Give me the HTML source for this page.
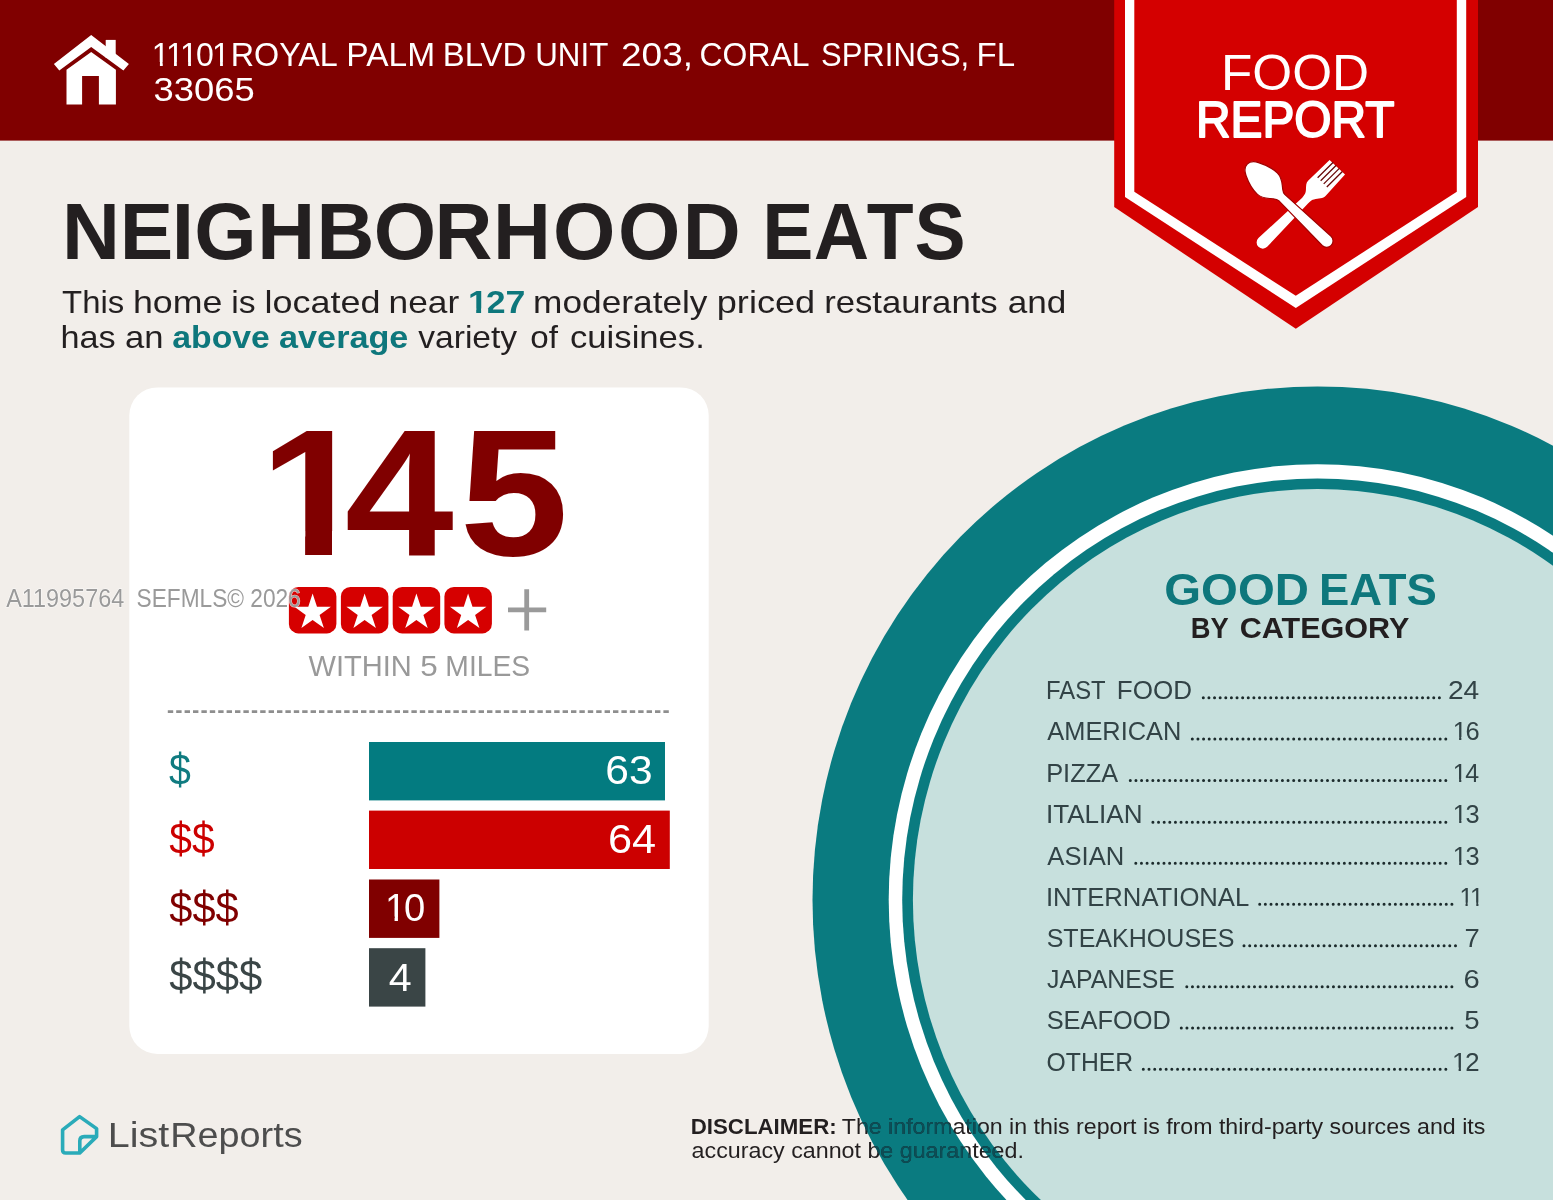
<!DOCTYPE html>
<html lang="en">
<head>
<meta charset="utf-8">
<title>Neighborhood Eats - Food Report</title>
<style>
html,body{margin:0;padding:0;background:#f2eeea;}
body{width:1553px;height:1200px;overflow:hidden;font-family:"Liberation Sans",sans-serif;}
svg{display:block;}
svg text{font-family:"Liberation Sans",sans-serif;white-space:pre;}
</style>
</head>
<body>
<svg width="1553" height="1200" viewBox="0 0 1553 1200">
<defs><clipPath id="ringclip"><path clip-rule="evenodd" d="M812.5 900.0a505.0 513.6 0 1 0 1010.0 0a505.0 513.6 0 1 0 -1010.0 0z M888.7 900.0a428.8 435.8 0 1 0 857.6 0a428.8 435.8 0 1 0 -857.6 0z M902.2 900.0a415.3 421.5 0 1 0 830.6 0a415.3 421.5 0 1 0 -830.6 0z M912.9 900.0a404.6 411.1 0 1 0 809.2 0a404.6 411.1 0 1 0 -809.2 0z"/></clipPath></defs>
<rect width="1553" height="1200" fill="#f2eeea"/>
<ellipse cx="1317.5" cy="900" rx="505" ry="513.6" fill="#0a7b80"/>
<ellipse cx="1317.5" cy="900" rx="428.8" ry="435.8" fill="#ffffff"/>
<ellipse cx="1317.5" cy="900" rx="415.3" ry="421.5" fill="#0a7b80"/>
<ellipse cx="1317.5" cy="900" rx="404.6" ry="411.1" fill="#c7e0dd"/>
<rect width="1553" height="140.6" fill="#800000"/>
<polygon points="1114.2,0 1478,0 1478,207 1295.8,328.8 1114.2,207" fill="#d40000"/>
<polygon points="1125,0 1466.2,0 1466.2,197.1 1295.8,308 1125,197.1" fill="#ffffff"/>
<polygon points="1134.3,0 1456.8,0 1456.8,191.7 1295.8,295.8 1134.3,191.7" fill="#d40000"/>
<g transform="translate(1257.5 246.3) rotate(-44.8)"><path fill="#ffffff" d="M6.5,-5.2 L66,-3 C70,-3.2 72,-4 74,-5.8 C77,-8.5 79,-10.8 82,-10.8 L112,-10.5 L112.7,10.7 L84,12.3 C80,12.5 77,9 73,6.6 C71.5,5.6 70,5.2 66,5.2 L6.5,7.2 A6.2,6.2 0 0 1 6.5,-5.2Z"/><path d="M91,-6.3H113M91,-2H113M91,2.35H113M91,6.7H113" stroke="#6a0a0a" stroke-width="1.3" fill="none"/></g>
<g transform="translate(1246.5 163.5) rotate(44)"><path fill="#ffffff" stroke="#a00000" stroke-width="1.2" d="M1,0 C1,-5 4,-7 8,-9 C14,-12 22,-14.8 29,-14.6 C36,-14.4 39,-10.5 43.5,-7 C45.5,-5.4 46.5,-4.5 49,-4.3 L111.4,-6.4 A6.4,6.4 0 0 1 111.4,6.4 L49,4.3 C46.5,4.5 45.5,5.4 43.5,7 C39,10.5 36,14.4 29,14.6 C22,14.8 14,12 8,9 C4,7 1,5 1,0Z"/></g>
<g fill="#ffffff"><path d="M91.2,35.1 L128.9,64 L123.4,70.6 L91.2,47 L59.3,70.6 L53.9,64Z"/><path d="M105.7,39.9H115.7V58H105.7Z"/><path d="M91.2,51.9 L115.9,69.8 V104.4 H98.9 V76 H82.1 V104.4 H66.5 V69.8Z"/></g>
<rect x="129.3" y="387.4" width="579.4" height="666.6" rx="28" fill="#ffffff"/>
<rect x="288.9" y="587" width="47.5" height="46.4" rx="9.5" fill="#d60000"/>
<polygon points="312.6,593.4 317.0,606.7 330.9,606.7 319.6,614.9 323.9,628.1 312.6,619.9 301.4,628.1 305.7,614.9 294.4,606.7 308.3,606.7" fill="#ffffff"/>
<rect x="340.9" y="587" width="47.5" height="46.4" rx="9.5" fill="#d60000"/>
<polygon points="364.6,593.4 369.0,606.7 382.9,606.7 371.6,614.9 375.9,628.1 364.6,619.9 353.4,628.1 357.7,614.9 346.4,606.7 360.3,606.7" fill="#ffffff"/>
<rect x="392.7" y="587" width="47.5" height="46.4" rx="9.5" fill="#d60000"/>
<polygon points="416.4,593.4 420.8,606.7 434.7,606.7 423.4,614.9 427.7,628.1 416.4,619.9 405.2,628.1 409.5,614.9 398.2,606.7 412.1,606.7" fill="#ffffff"/>
<rect x="444.4" y="587" width="47.5" height="46.4" rx="9.5" fill="#d60000"/>
<polygon points="468.1,593.4 472.5,606.7 486.4,606.7 475.1,614.9 479.4,628.1 468.1,619.9 456.9,628.1 461.2,614.9 449.9,606.7 463.8,606.7" fill="#ffffff"/>
<path d="M508,609.9H546.2M526.7,589.3V630.5" stroke="#9a9a9a" stroke-width="4.8" fill="none"/>
<line x1="167.8" y1="711.6" x2="670" y2="711.6" stroke="#8e8e8e" stroke-width="2.8" stroke-dasharray="5.4 3"/>
<rect x="369" y="742.0" width="296.0" height="58.4" fill="#037b80"/>
<rect x="369" y="810.6" width="300.8" height="58.4" fill="#cc0000"/>
<rect x="369" y="879.5" width="70.4" height="58.4" fill="#800000"/>
<rect x="369" y="948.2" width="56.4" height="58.4" fill="#3a4546"/>
<g stroke="#1c2b2c" stroke-width="3" stroke-linecap="round"><line x1="1203.30" y1="697.65" x2="1439.80" y2="697.65" stroke-dasharray="0.01 5.611"/><line x1="1192.30" y1="738.95" x2="1446.20" y2="738.95" stroke-dasharray="0.01 5.623"/><line x1="1130.30" y1="780.55" x2="1446.20" y2="780.55" stroke-dasharray="0.01 5.624"/><line x1="1152.90" y1="822.15" x2="1446.20" y2="822.15" stroke-dasharray="0.01 5.623"/><line x1="1135.80" y1="863.35" x2="1446.20" y2="863.35" stroke-dasharray="0.01 5.626"/><line x1="1259.70" y1="904.35" x2="1452.30" y2="904.35" stroke-dasharray="0.01 5.643"/><line x1="1244.00" y1="945.65" x2="1455.90" y2="945.65" stroke-dasharray="0.01 5.706"/><line x1="1186.80" y1="986.85" x2="1452.30" y2="986.85" stroke-dasharray="0.01 5.630"/><line x1="1181.30" y1="1028.05" x2="1452.30" y2="1028.05" stroke-dasharray="0.01 5.627"/><line x1="1143.30" y1="1069.35" x2="1446.20" y2="1069.35" stroke-dasharray="0.01 5.698"/></g>
<path d="M79.6,1116.6 L96.6,1128.6 V1136.6 L79.8,1153 H65.6 Q62.6,1153 62.6,1150 V1129.8Z M79.8,1153 V1141 Q79.8,1136.6 84.2,1136.6 H96.6" fill="none" stroke="#2aabb9" stroke-width="3.6" stroke-linejoin="round" stroke-linecap="round"/>
<defs><clipPath id="c1"><path clip-rule="evenodd" d="M0 0H1553V1200H0ZM153.01 61.96H159.91V67.14H153.01ZM162.75 61.96H174.02V67.14H162.75ZM176.85 61.96H188.13V67.14H176.85ZM190.96 61.96H197.61V67.14H190.96ZM213.16 61.96H220.06V67.14H213.16ZM222.89 61.96H229.54V67.14H222.89Z"/></clipPath><clipPath id="c2"><path clip-rule="evenodd" d="M0 0H1553V1200H0ZM468.7 308.45H476.21V314.28H468.7ZM481.1 308.45H488.16V314.28H481.1Z"/></clipPath><clipPath id="c3"><path clip-rule="evenodd" d="M0 0H1553V1200H0ZM265.82 530.9H305.12V559.98H265.82ZM332.03 530.9H368.85V559.98H332.03Z"/></clipPath><clipPath id="c4"><path clip-rule="evenodd" d="M0 0H1553V1200H0ZM386.35 916.58H394.57V922.68H386.35ZM397.95 916.58H405.87V922.68H397.95Z"/></clipPath><clipPath id="c5"><path clip-rule="evenodd" d="M0 0H1553V1200H0ZM1453.6 737.1H1459.09V741.15H1453.6ZM1461.34 737.1H1466.62V741.15H1461.34Z"/></clipPath><clipPath id="c6"><path clip-rule="evenodd" d="M0 0H1553V1200H0ZM1453.73 778.7H1459.1V782.75H1453.73ZM1461.31 778.7H1466.49V782.75H1461.31Z"/></clipPath><clipPath id="c7"><path clip-rule="evenodd" d="M0 0H1553V1200H0ZM1453.71 820.3H1459.17V824.35H1453.71ZM1461.41 820.3H1466.67V824.35H1461.41Z"/></clipPath><clipPath id="c8"><path clip-rule="evenodd" d="M0 0H1553V1200H0ZM1453.71 861.5H1459.17V865.55H1453.71ZM1461.41 861.5H1466.67V865.55H1461.41Z"/></clipPath><clipPath id="c9"><path clip-rule="evenodd" d="M0 0H1553V1200H0ZM1460.26 902.5H1465.52V906.55H1460.26ZM1467.68 902.5H1476.27V906.55H1467.68ZM1478.43 902.5H1483.49V906.55H1478.43Z"/></clipPath><clipPath id="c10"><path clip-rule="evenodd" d="M0 0H1553V1200H0ZM1452.95 1067.5H1458.61V1071.55H1452.95ZM1460.93 1067.5H1466.39V1071.55H1460.93Z"/></clipPath></defs>
<g id="labels">
<g clip-path="url(#c1)"><text font-kerning="none" style="font-kerning:none" transform="translate(151.86 65.8) scale(0.9579 1)" font-size="33.45" font-weight="400" fill="#ffffff" dx="0 -3.88 -3.88 -1.94 -1.94">11101</text></g>
<text transform="translate(230.73 65.8) scale(0.9659 1)" font-size="33.45" font-weight="400" fill="#ffffff">ROYAL</text>
<text transform="translate(346.33 65.8) scale(1.0020 1)" font-size="33.45" font-weight="400" fill="#ffffff">PALM</text>
<text transform="translate(442.79 65.8) scale(0.9833 1)" font-size="33.45" font-weight="400" fill="#ffffff">BLVD</text>
<text transform="translate(535.27 65.8) scale(0.9359 1)" font-size="33.45" font-weight="400" fill="#ffffff">UNIT</text>
<text transform="translate(621.05 65.8) scale(1.1047 1)" font-size="33.45" font-weight="400" fill="#ffffff">203,</text>
<text transform="translate(699.5 65.8) scale(0.9547 1)" font-size="33.45" font-weight="400" fill="#ffffff">CORAL</text>
<text transform="translate(821 65.8) scale(0.9273 1)" font-size="33.45" font-weight="400" fill="#ffffff">SPRINGS,</text>
<text transform="translate(976.57 65.8) scale(0.9883 1)" font-size="33.45" font-weight="400" fill="#ffffff">FL</text>
<text transform="translate(153.53 100.7) scale(1.0883 1)" font-size="33.45" font-weight="400" fill="#ffffff">33065</text>
<text transform="translate(1220.97 90.1) scale(1.0130 1)" font-size="50.62" font-weight="400" fill="#ffffff">FOOD</text>
<text transform="translate(1195.95 136.8) scale(0.9539 1)" font-size="50.18" font-weight="400" fill="#ffffff" stroke="#ffffff" stroke-width="1.8" stroke-linejoin="round">REPORT</text>
<text transform="translate(0 258.7) scale(1.0067 1)" x="61.7 118.92 170.73 192.87 255.56 314.32 371.18 431.63 489.85 549.4 613.77 678.09" font-size="79.71" font-weight="700" fill="#231f20">NEIGHBORHOOD</text>
<text transform="translate(0 258.7) scale(0.9627 1)" x="791.86 845.3 900.22 949.9" font-size="79.71" font-weight="700" fill="#231f20">EATS</text>
<text transform="translate(62.06 313) scale(1.0280 1)" font-size="32" font-weight="400" fill="#231f20">This</text>
<text transform="translate(132.9 313) scale(1.1178 1)" font-size="32" font-weight="400" fill="#231f20">home</text>
<text transform="translate(231.23 313) scale(1.0526 1)" font-size="32" font-weight="400" fill="#231f20">is</text>
<text transform="translate(264.57 313) scale(1.1237 1)" font-size="32" font-weight="400" fill="#231f20">located</text>
<text transform="translate(388.52 313) scale(1.1033 1)" font-size="32" font-weight="400" fill="#231f20">near</text>
<g clip-path="url(#c2)"><text font-kerning="none" style="font-kerning:none" transform="translate(467.88 313) scale(1.1152 1)" font-size="32" font-weight="700" fill="#0e777c" dx="0 -1.86 0">127</text></g>
<text transform="translate(533.12 313) scale(1.1020 1)" font-size="32" font-weight="400" fill="#231f20">moderately</text>
<text transform="translate(716.75 313) scale(1.1296 1)" font-size="32" font-weight="400" fill="#231f20">priced</text>
<text transform="translate(824.16 313) scale(1.0842 1)" font-size="32" font-weight="400" fill="#231f20">restaurants</text>
<text transform="translate(1007.71 313) scale(1.0980 1)" font-size="32" font-weight="400" fill="#231f20">and</text>
<text transform="translate(60.4 348.2) scale(1.0694 1)" font-size="32" font-weight="400" fill="#231f20">has</text>
<text transform="translate(124.93 348.2) scale(1.0821 1)" font-size="32" font-weight="400" fill="#231f20">an</text>
<text transform="translate(172.29 348.2) scale(1.0553 1)" font-size="32" font-weight="700" fill="#0e777c">above</text>
<text transform="translate(279.07 348.2) scale(1.0693 1)" font-size="32" font-weight="700" fill="#0e777c">average</text>
<text transform="translate(418.23 348.2) scale(1.0500 1)" font-size="32" font-weight="400" fill="#231f20">variety</text>
<text transform="translate(530.29 348.2) scale(1.0371 1)" font-size="32" font-weight="400" fill="#231f20">of</text>
<text transform="translate(570.03 348.2) scale(1.0828 1)" font-size="32" font-weight="400" fill="#231f20">cuisines.</text>
<g clip-path="url(#c3)"><text transform="translate(0 554.6) scale(1.0926 1)" x="237.45 315.65 420.53" font-size="179.49" font-weight="700" fill="#800000">145</text></g>
<text transform="translate(308.45 675.7) scale(1.0003 1)" font-size="29.09" font-weight="400" fill="#999999">WITHIN</text>
<text transform="translate(420.35 675.7) scale(1.0783 1)" font-size="29.09" font-weight="400" fill="#999999">5</text>
<text transform="translate(445.37 675.7) scale(0.9717 1)" font-size="29.09" font-weight="400" fill="#999999">MILES</text>
<text transform="translate(169.11 784.84) scale(0.3925 0.4370)" font-size="100" font-weight="400" fill="#0f7b80">$</text>
<text transform="translate(169.29 854.15) scale(0.4074 0.4358)" font-size="100" font-weight="400" fill="#cc0000">$$</text>
<text transform="translate(169.28 922.84) scale(0.4158 0.4370)" font-size="100" font-weight="400" fill="#800000">$$$</text>
<text transform="translate(169.28 991.41) scale(0.4187 0.4407)" font-size="100" font-weight="400" fill="#3a4546">$$$$</text>
<text transform="translate(605.27 783.9) scale(0.4256 0.4028)" font-size="100" font-weight="400" fill="#ffffff">63</text>
<text transform="translate(608.04 853) scale(0.4329 0.3986)" font-size="100" font-weight="400" fill="#ffffff">64</text>
<g clip-path="url(#c4)"><text font-kerning="none" style="font-kerning:none" transform="translate(384.97 921.11) scale(0.3817 0.3943)" font-size="100" font-weight="400" fill="#ffffff" dx="0 -5.8">10</text></g>
<text transform="translate(388.77 990.6) scale(0.4119 0.3913)" font-size="100" font-weight="400" fill="#ffffff">4</text>
<text transform="translate(1164.31 604.5) scale(1.0497 1)" font-size="45.09" font-weight="700" fill="#0e777c">GOOD</text>
<text transform="translate(1318.93 604.5) scale(1.0076 1)" font-size="45.09" font-weight="700" fill="#0e777c">EATS</text>
<text transform="translate(1190.65 637.8) scale(0.9130 1)" font-size="29.96" font-weight="700" fill="#231f20">BY</text>
<text transform="translate(1239.68 637.8) scale(1.0199 1)" font-size="29.96" font-weight="700" fill="#231f20">CATEGORY</text>
<text transform="translate(1046.03 698.8) scale(0.9106 1)" font-size="26.18" font-weight="400" fill="#324346">FAST</text>
<text transform="translate(1116.75 698.8) scale(0.9945 1)" font-size="26.18" font-weight="400" fill="#324346">FOOD</text>
<text transform="translate(1447.89 698.8) scale(1.0765 1)" font-size="26.18" font-weight="400" fill="#324346">24</text>
<text transform="translate(1047.34 740.1) scale(0.9705 1)" font-size="26.18" font-weight="400" fill="#324346">AMERICAN</text>
<g clip-path="url(#c5)"><text font-kerning="none" style="font-kerning:none" transform="translate(1452.68 740.1) scale(0.9732 1)" font-size="26.18" font-weight="400" fill="#324346" dx="0 -1.52">16</text></g>
<text transform="translate(1046.21 781.7) scale(0.9689 1)" font-size="26.18" font-weight="400" fill="#324346">PIZZA</text>
<g clip-path="url(#c6)"><text font-kerning="none" style="font-kerning:none" transform="translate(1452.83 781.7) scale(0.9533 1)" font-size="26.18" font-weight="400" fill="#324346" dx="0 -1.52">14</text></g>
<text transform="translate(1045.88 823.3) scale(0.9976 1)" font-size="26.18" font-weight="400" fill="#324346">ITALIAN</text>
<g clip-path="url(#c7)"><text font-kerning="none" style="font-kerning:none" transform="translate(1452.79 823.3) scale(0.9690 1)" font-size="26.18" font-weight="400" fill="#324346" dx="0 -1.52">13</text></g>
<text transform="translate(1047.34 864.5) scale(0.9792 1)" font-size="26.18" font-weight="400" fill="#324346">ASIAN</text>
<g clip-path="url(#c8)"><text font-kerning="none" style="font-kerning:none" transform="translate(1452.79 864.5) scale(0.9690 1)" font-size="26.18" font-weight="400" fill="#324346" dx="0 -1.52">13</text></g>
<text transform="translate(1045.93 905.5) scale(0.9803 1)" font-size="26.18" font-weight="400" fill="#324346">INTERNATIONAL</text>
<g clip-path="url(#c9)"><text font-kerning="none" style="font-kerning:none" transform="translate(1459.38 905.5) scale(0.9325 1)" font-size="26.18" font-weight="400" fill="#324346" dx="0 -3.04">11</text></g>
<text transform="translate(1046.67 946.8) scale(0.9567 1)" font-size="26.18" font-weight="400" fill="#324346">STEAKHOUSES</text>
<text transform="translate(1464.56 946.8) scale(1.0467 1)" font-size="26.18" font-weight="400" fill="#324346">7</text>
<text transform="translate(1047.03 988) scale(0.9488 1)" font-size="26.18" font-weight="400" fill="#324346">JAPANESE</text>
<text transform="translate(1463.44 988) scale(1.1149 1)" font-size="26.18" font-weight="400" fill="#324346">6</text>
<text transform="translate(1046.66 1029.2) scale(0.9705 1)" font-size="26.18" font-weight="400" fill="#324346">SEAFOOD</text>
<text transform="translate(1464.2 1029.2) scale(1.0534 1)" font-size="26.18" font-weight="400" fill="#324346">5</text>
<text transform="translate(1046.62 1070.5) scale(0.9456 1)" font-size="26.18" font-weight="400" fill="#324346">OTHER</text>
<g clip-path="url(#c10)"><text font-kerning="none" style="font-kerning:none" transform="translate(1452 1070.5) scale(1.0037 1)" font-size="26.18" font-weight="400" fill="#324346" dx="0 -1.52">12</text></g>
<text transform="translate(107.84 1147) scale(1.1209 1)" font-size="35.2" font-weight="400" fill="#4d4d4d">List</text>
<text transform="translate(170.18 1147) scale(1.0742 1)" font-size="35.2" font-weight="400" fill="#4d4d4d">Reports</text>
</g>
<g id="disclaimer">
<text transform="translate(690.7 1134.3) scale(1.0286 1)" font-size="21.67" font-weight="700" fill="#231f20">DISCLAIMER:</text>
<text transform="translate(841.78 1134.3) scale(1.0692 1)" font-size="21.67" font-weight="400" fill="#231f20">The information in this report is from third-party sources and its</text>
<text transform="translate(691.61 1158.1) scale(1.0741 1)" font-size="21.67" font-weight="400" fill="#231f20">accuracy cannot be guaranteed.</text>
</g>
<g id="disclaimer-over" clip-path="url(#ringclip)">
<text transform="translate(690.7 1134.3) scale(1.0286 1)" font-size="21.67" font-weight="700" fill="#0b4e57">DISCLAIMER:</text>
<text transform="translate(841.78 1134.3) scale(1.0692 1)" font-size="21.67" font-weight="400" fill="#0b4e57">The information in this report is from third-party sources and its</text>
<text transform="translate(691.61 1158.1) scale(1.0741 1)" font-size="21.67" font-weight="400" fill="#0b4e57">accuracy cannot be guaranteed.</text>
</g>
<g id="watermark">
<text transform="translate(6.14 607.1) scale(0.9312 1)" font-size="25.16" font-weight="400" fill="#9a9a9a" stroke="#ffffff" stroke-width="1.2" stroke-opacity="0.75" paint-order="stroke">A11995764</text>
<text transform="translate(136.58 607.1) scale(0.9015 1)" font-size="25.16" font-weight="400" fill="#9a9a9a" stroke="#ffffff" stroke-width="1.2" stroke-opacity="0.75" paint-order="stroke">SEFMLS© 2026</text>
</g>
</svg>
</body>
</html>
